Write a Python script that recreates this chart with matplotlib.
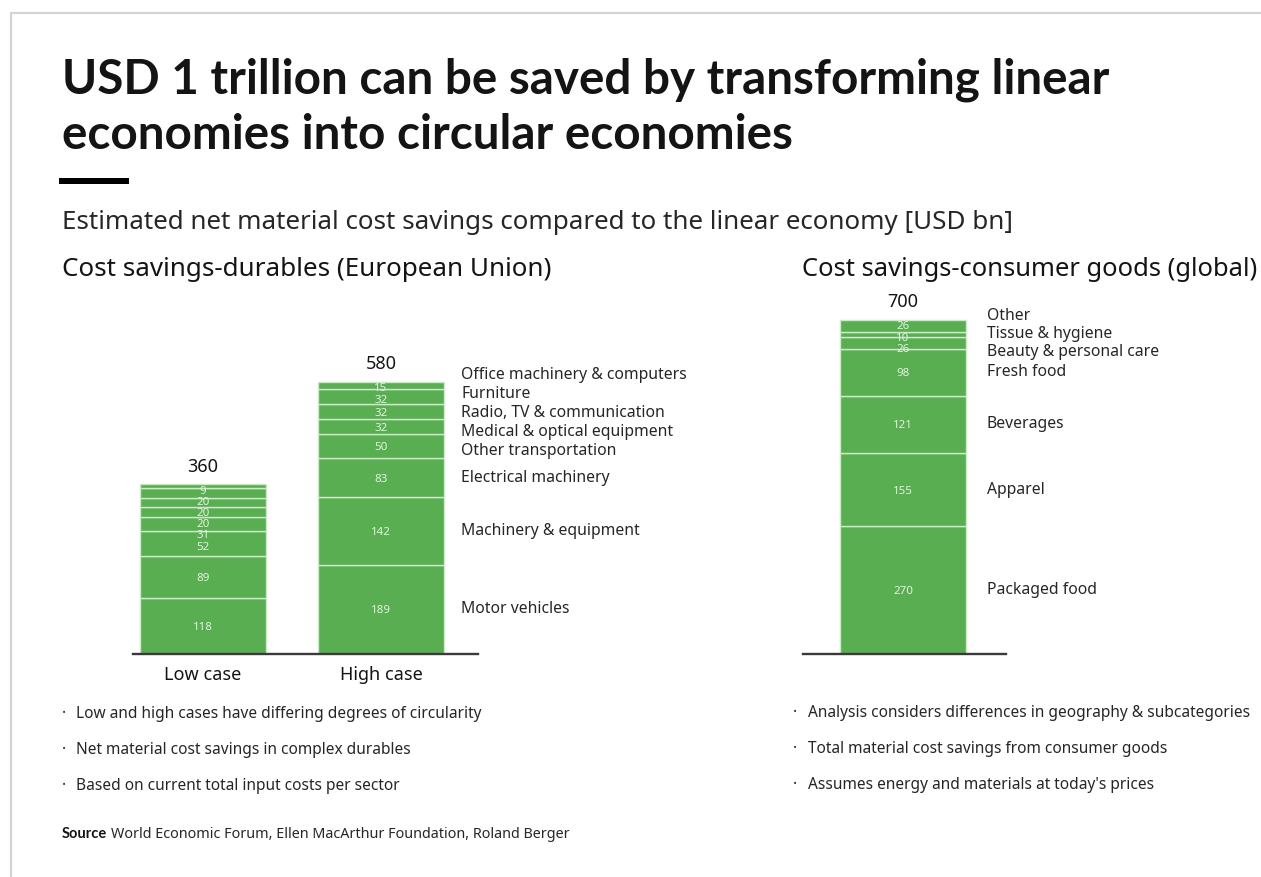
import numpy as np
import matplotlib
matplotlib.use("Agg")
import matplotlib.pyplot as plt
from matplotlib.patches import Rectangle
from matplotlib.lines import Line2D

# ---------------- data ----------------
durable_cases = ["Low case", "High case"]
durable_totals = [360, 580]
durable_categories = ["Motor vehicles", "Machinery & equipment", "Electrical machinery",
                      "Other transportation", "Medical & optical equipment",
                      "Radio, TV & communication", "Furniture", "Office machinery & computers"]
durable_low = [118, 89, 52, 31, 20, 20, 20, 9]
durable_high = [189, 142, 83, 50, 32, 32, 32, 15]

consumer_total = [700]
consumer_categories = ["Packaged food", "Apparel", "Beverages", "Fresh food",
                       "Beauty & personal care", "Tissue & hygiene", "Other"]
consumer_values = [270, 155, 121, 98, 26, 10, 26]

title_lines = ["USD 1 trillion can be saved by transforming linear",
               "economies into circular economies"]
subtitle = "Estimated net material cost savings compared to the linear economy [USD bn]"
left_heading = "Cost savings-durables (European Union)"
right_heading = "Cost savings-consumer goods (global)"
left_notes = ["Low and high cases have differing degrees of circularity",
              "Net material cost savings in complex durables",
              "Based on current total input costs per sector"]
right_notes = ["Analysis considers differences in geography & subcategories",
               "Total material cost savings from consumer goods",
               "Assumes energy and materials at today's prices"]
source_label = "Source"
source_text = "World Economic Forum, Ellen MacArthur Foundation, Roland Berger"

# ---------------- style ----------------
W, H = 1261, 877
GREEN = "#5aae52"
SEP = "#cfe8ca"
NUM = "#e2f2de"
DARK = "#141414"
BODY = "#262626"
FONT = ["Noto Sans", "DejaVu Sans"]
BOLD_FONT = ["Lato", "Roboto", "DejaVu Sans"]
plt.rcParams["font.family"] = FONT

fig = plt.figure(figsize=(W / 100, H / 100), dpi=100)
fig.patch.set_facecolor("white")
renderer = fig.canvas.get_renderer()


def fx(x):
    return x / W


def fy(y):
    return 1 - y / H


def fit(t, width_px):
    bb = t.get_window_extent(renderer)
    t.set_fontsize(t.get_fontsize() * width_px / bb.width)
    return t.get_fontsize()


# frame
fig.add_artist(Line2D([fx(11), fx(W)], [fy(12.5), fy(12.5)], color="#d4d4d4", lw=1.6))
fig.add_artist(Line2D([fx(11), fx(11)], [fy(12.5), fy(H)], color="#d4d4d4", lw=1.6))

# title
t1 = fig.text(fx(62), fy(94), title_lines[0], fontsize=34, weight="bold", color=DARK,
              va="baseline", family=BOLD_FONT)
ts = fit(t1, 1051)
fig.text(fx(62), fy(149), title_lines[1], fontsize=ts, weight="bold", color=DARK,
         va="baseline", family=BOLD_FONT)
fig.add_artist(Rectangle((fx(59), fy(184)), fx(129) - fx(59), fy(178) - fy(184),
                         transform=fig.transFigure, color="black", lw=0))

# subtitle and headings
st = fig.text(fx(62), fy(229), subtitle, fontsize=18, color=BODY, va="baseline")
fit(st, 948)
h1 = fig.text(fx(62), fy(276), left_heading, fontsize=17, color=DARK, va="baseline")
hs = fit(h1, 490)
h2 = fig.text(fx(802), fy(276), right_heading, fontsize=hs, color=DARK, va="baseline")
if h2.get_window_extent(renderer).x1 > W - 3:
    fit(h2, W - 3 - 802)

# notes
n0 = fig.text(fx(76), fy(718), left_notes[0], fontsize=11, color=BODY, va="baseline")
ns = fit(n0, 405)
for i, s in enumerate(left_notes):
    yb = 718 + 36 * i
    fig.text(fx(62), fy(yb), "·", fontsize=ns, color=BODY, va="baseline")
    if i > 0:
        fig.text(fx(76), fy(yb), s, fontsize=ns, color=BODY, va="baseline")
for i, s in enumerate(right_notes):
    yb = 717 + 36 * i
    fig.text(fx(793), fy(yb), "·", fontsize=ns, color=BODY, va="baseline")
    fig.text(fx(808), fy(yb), s, fontsize=ns, color=BODY, va="baseline")

# source
s1 = fig.text(fx(62), fy(838), source_label, fontsize=10.5, weight="bold", color=DARK,
              va="baseline", family=BOLD_FONT)
bb = s1.get_window_extent(renderer)
s2 = fig.text(fx(62 + bb.width + 4), fy(838), source_text, fontsize=10, color=BODY, va="baseline")
fit(s2, 570 - (62 + bb.width + 4))

# ---------------- charts ----------------
BASE = 654
YMAX = 750
AX_H = 355
BAR_W = 0.708
UNIT_PX = 178.0  # px per x unit


def spread(desired, gap, hi=None):
    blocks = []
    for i, d in enumerate(desired):
        blocks.append([[i], d])
        while len(blocks) > 1:
            a, b = blocks[-2], blocks[-1]
            a_top = a[1] + (len(a[0]) - 1) * gap / 2
            b_bot = b[1] - (len(b[0]) - 1) * gap / 2
            if b_bot - a_top < gap:
                idx = a[0] + b[0]
                n = len(idx)
                c = np.mean([desired[k] - (j - (n - 1) / 2) * gap for j, k in enumerate(idx)])
                blocks[-2:] = [[idx, c]]
            else:
                break
    pos = np.zeros(len(desired))
    for idx, c in blocks:
        n = len(idx)
        for j, k in enumerate(idx):
            pos[k] = c + (j - (n - 1) / 2) * gap
    if hi is not None:
        pos[-1] = min(pos[-1], hi)
        for k in range(len(pos) - 2, -1, -1):
            pos[k] = min(pos[k], pos[k + 1] - gap)
    return pos


def make_axes(x0, x1, xmin, xmax):
    ax = fig.add_axes([fx(x0), fy(BASE), fx(x1) - fx(x0), AX_H / H])
    ax.set_xlim(xmin, xmax)
    ax.set_ylim(0, YMAX)
    ax.axis("off")
    ax.axhline(0, color="#3a3a3a", lw=1.7, zorder=5, clip_on=False)
    return ax


px_per_unit = AX_H / YMAX
NUM_FS = 8.3
NUM_GAP_PX = 11.2


def draw_stack(ax, x, values, total_label):
    vals = np.array(values, dtype=float)
    bottoms = np.concatenate([[0], np.cumsum(vals)[:-1]])
    ax.bar([x] * len(vals), vals, bottom=bottoms, width=BAR_W, color=GREEN,
           edgecolor=SEP, linewidth=1.0, zorder=2)
    top = vals.sum()
    centers = bottoms + vals / 2
    gap = NUM_GAP_PX / px_per_unit
    pos = spread(list(centers), gap, hi=top - gap / 2)
    for v, p in zip(values, pos):
        ax.text(x, p, f"{v}", ha="center", va="center_baseline", fontsize=NUM_FS,
                color=NUM, zorder=3)
    ax.annotate(f"{total_label}", xy=(x, top), xytext=(0, 12.5), textcoords="offset points",
                ha="center", va="center", fontsize=13, color=DARK)
    return bottoms, centers


def draw_category_labels(ax, x, centers, labels, gap_px, fs, off_pt):
    pos = spread(list(centers), gap_px / px_per_unit)
    for lab, p in zip(labels, pos):
        ax.annotate(lab, xy=(x + BAR_W / 2, p), xytext=(off_pt, 0), textcoords="offset points",
                    ha="left", va="center", fontsize=fs, color=BODY)


# left chart
axL = make_axes(133, 478, -(203 - 133) / UNIT_PX, 1 + (478 - 381) / UNIT_PX)
draw_stack(axL, 0, durable_low, durable_totals[0])
_, hc = draw_stack(axL, 1, durable_high, durable_totals[1])
for i, lab in enumerate(durable_cases):
    axL.annotate(lab, xy=(i, 0), xytext=(0, -15), textcoords="offset points",
                 ha="center", va="center", fontsize=13, color=DARK)

probe = fig.text(0, 0, durable_categories[-1], fontsize=11)
cat_fs = fit(probe, 225)
probe.remove()
draw_category_labels(axL, 1, hc, durable_categories, 19, cat_fs, 12.5)

# right chart
axR = make_axes(803, 1006, -(903 - 803) / UNIT_PX, (1006 - 903) / UNIT_PX)
_, rc = draw_stack(axR, 0, consumer_values, consumer_total[0])
draw_category_labels(axR, 0, rc, consumer_categories, 18, cat_fs, 15)

fig.savefig("out.png", dpi=100, facecolor="white")
